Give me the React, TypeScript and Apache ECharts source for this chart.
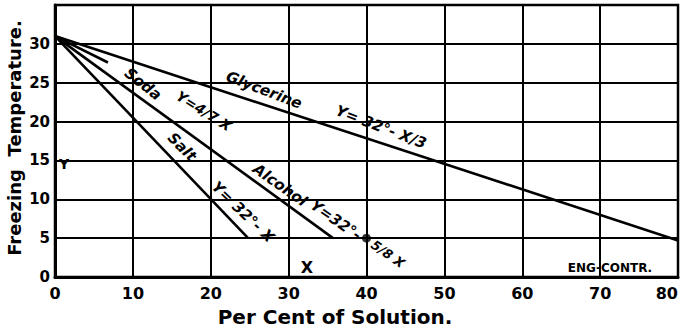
import React, { useEffect, useRef } from "react";
import * as echarts from "echarts";

const xTicks = [0, 10, 20, 30, 40, 50, 60, 70, 80];
const yTicks = [0, 5, 10, 15, 20, 25, 30];

const glycerine: [number, number][] = [[0, 31], [80, 4.7]];
const soda: [number, number][] = [[0, 31], [6.8, 27.6]];
const salt: [number, number][] = [[0, 31], [24.8, 5]];
const alcohol: [number, number][] = [[0, 31], [35.7, 5]];
const marker: [number, number][] = [[40, 5]];

const FONT = "DejaVu Sans";

export default function App() {
  const ref = useRef<HTMLDivElement>(null);
  useEffect(() => {
    document.body.style.margin = "0";
    const chart = echarts.init(ref.current!, null, { renderer: "svg" });
    const lineSeries = (name: string, data: [number, number][]) => ({
      name,
      type: "line",
      data,
      showSymbol: false,
      symbol: "none",
      lineStyle: { color: "#000", width: 2.6 },
      z: 5,
    });
    const ann = (text: string, x: number, y: number, deg: number, size = 14) => ({
      type: "text",
      x,
      y,
      rotation: (-deg * Math.PI) / 180,
      style: {
        text,
        fill: "#000",
        font: `italic bold ${size}px "${FONT}"`,
        align: "center",
        verticalAlign: "middle",
      },
      z: 10,
    });
    chart.setOption({
      animation: false,
      backgroundColor: "#fff",
      grid: {
        left: 55,
        right: 7,
        top: 5,
        bottom: 52,
        show: true,
        borderColor: "#000",
        borderWidth: 2.5,
        backgroundColor: "transparent",
        outerBoundsMode: "none",
        containLabel: false,
      },
      xAxis: {
        type: "value",
        min: 0,
        max: 80,
        interval: 10,
        axisLine: { show: true, lineStyle: { color: "#000", width: 3 } },
        axisTick: { show: false },
        splitLine: { show: true, lineStyle: { color: "#000", width: 2 } },
        axisLabel: {
          color: "#000",
          fontFamily: FONT,
          fontWeight: "bold",
          fontSize: 16,
          margin: 8,
          alignMaxLabel: "right",
          formatter: (v: number) => (xTicks.includes(v) ? String(v) : ""),
        },
      },
      yAxis: {
        type: "value",
        min: 0,
        max: 35,
        interval: 5,
        axisLine: { show: true, lineStyle: { color: "#000", width: 3 } },
        axisTick: { show: false },
        splitLine: { show: true, lineStyle: { color: "#000", width: 2 } },
        axisLabel: {
          color: "#000",
          fontFamily: FONT,
          fontWeight: "bold",
          fontSize: 15,
          margin: 5,
          formatter: (v: number) => (yTicks.includes(v) ? String(v) : ""),
        },
      },
      series: [
        lineSeries("Glycerine", glycerine),
        lineSeries("Soda", soda),
        lineSeries("Salt", salt),
        lineSeries("Alcohol", alcohol),
        {
          name: "point",
          type: "scatter",
          data: marker,
          symbol: "circle",
          symbolSize: 9,
          itemStyle: { color: "#000" },
          z: 6,
        },
      ],
      graphic: [
        {
          type: "text",
          x: 14,
          y: 138,
          rotation: Math.PI / 2,
          style: {
            text: "Freezing  Temperature.",
            fill: "#000",
            font: `bold 18px "${FONT}"`,
            align: "center",
            verticalAlign: "middle",
          },
        },
        {
          type: "text",
          x: 335,
          y: 317,
          style: {
            text: "Per Cent of Solution.",
            fill: "#000",
            font: `bold 20px "${FONT}"`,
            align: "center",
            verticalAlign: "middle",
          },
        },
        ann("Glycerine", 264, 90, 21, 15),
        ann("Y= 32°- X/3", 381, 127, 21, 15),
        ann("Soda", 143, 84, 38, 15),
        ann("Y=4/7 X", 204, 111, 32, 14),
        ann("Salt", 182, 147, 45, 15),
        ann("Y= 32°- X", 243, 212, 44, 15),
        ann("Alcohol", 280, 185, 35, 15),
        ann("Y=32°-", 336, 220, 35, 15),
        ann("5/8 X", 388, 254, 35, 13),
        {
          type: "text",
          x: 64,
          y: 164,
          style: { text: "Y", fill: "#000", font: `bold 14px "${FONT}"`, align: "center", verticalAlign: "middle" },
          z: 10,
        },
        {
          type: "text",
          x: 307,
          y: 267,
          style: { text: "X", fill: "#000", font: `bold 16px "${FONT}"`, align: "center", verticalAlign: "middle" },
          z: 10,
        },
        {
          type: "text",
          x: 610,
          y: 268,
          style: { text: "ENG-CONTR.", fill: "#000", font: `bold 12px "${FONT}"`, align: "center", verticalAlign: "middle" },
          z: 10,
        },
      ],
    });
    return () => chart.dispose();
  }, []);
  return (
    <div
      ref={ref}
      style={{ position: "fixed", left: 0, top: 0, width: 685, height: 329, background: "#fff" }}
    />
  );
}
